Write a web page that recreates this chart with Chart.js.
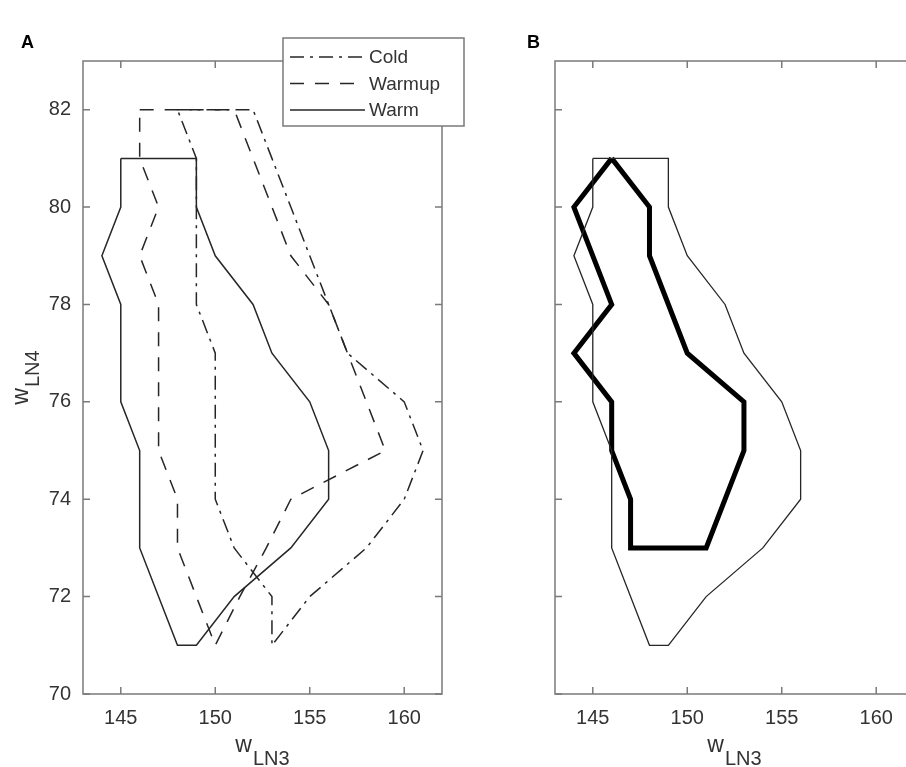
<!DOCTYPE html>
<html><head><meta charset="utf-8">
<style>
html,body{margin:0;padding:0;background:#fff;width:906px;height:767px;overflow:hidden;position:relative}
#wa{position:absolute;left:0;top:0;width:470px;height:767px}
#wb{position:absolute;left:472px;top:0;width:460px;height:767px}
canvas{display:block}
</style>
<script src="https://cdn.jsdelivr.net/npm/chart.js@4"></script>
</head><body>
<div id="wa"><canvas id="ca" width="470" height="767"></canvas></div>
<div id="wb"><canvas id="cb" width="460" height="767"></canvas></div>
<script>
// ---- data ----
const xTicks = [145, 150, 155, 160];
const yTicks = [70, 72, 74, 76, 78, 80, 82];

const legendLabels = ['Cold', 'Warmup', 'Warm'];

const coldX = [148,152,153,154,155,156,157,160,161,160,158,155,153,153,151,150,150,149,149,148];
const coldY = [82,82,81,80,79,78,77,76,75,74,73,72,71,72,73,74,77,78,81,82];

const warmupX = [146,151,152,153,154,156,157,158,159,154,152.7,151.3,150,149,148,148,147,147,146,147,146,146];
const warmupY = [82,82,81,80,79,78,77,76,75,74,73,72,71,72,73,74,75,78,79,80,81,82];

const warmX = [145,149,149,150,152,153,155,156,156,154,151,149,148,146,146,145,145,144,145,145];
const warmY = [81,81,80,79,78,77,76,75,74,73,72,71,71,73,75,76,78,79,80,81];

const coreX = [146,148,148,150,153,153,151,147,147,146,146,144,146,144,146];
const coreY = [81,80,79,77,76,75,73,73,74,75,76,77,78,80,81];

// ---- styling ----
const FONT = '"Liberation Sans", Arial, Helvetica, sans-serif';
const LINE = '#262626';
const AXIS = '#7a7a7a';
const TXT = '#333333';
const DASH = [14, 11];
const DASHDOT = [14, 6, 3, 6];

const pts = (xs, ys) => xs.map((x, i) => ({x: x, y: ys[i]}));

function lineDs(label, xs, ys, dash, width, color) {
  return {
    label: label, data: pts(xs, ys), showLine: true, pointRadius: 0, pointHoverRadius: 0,
    borderColor: color, backgroundColor: color, borderWidth: width, borderDash: dash,
    tension: 0, fill: false, borderJoinStyle: 'miter', borderCapStyle: 'butt'
  };
}

const framePlugin = {
  id: 'frame',
  beforeDatasetsDraw(chart) {
    const {ctx, chartArea: a, scales} = chart;
    ctx.save();
    ctx.strokeStyle = AXIS;
    ctx.lineWidth = 1.5;
    ctx.setLineDash([]);
    ctx.strokeRect(a.left, a.top, a.right - a.left, a.bottom - a.top);
    const tl = 7;
    ctx.beginPath();
    xTicks.forEach(v => {
      const px = scales.x.getPixelForValue(v);
      ctx.moveTo(px, a.bottom); ctx.lineTo(px, a.bottom - tl);
      ctx.moveTo(px, a.top); ctx.lineTo(px, a.top + tl);
    });
    yTicks.forEach(v => {
      const py = scales.y.getPixelForValue(v);
      ctx.moveTo(a.left, py); ctx.lineTo(a.left + tl, py);
      ctx.moveTo(a.right, py); ctx.lineTo(a.right - tl, py);
    });
    ctx.stroke();
    ctx.restore();
  }
};

function subText(ctx, main, sub, x, y, subDy) {
  ctx.font = '23px ' + FONT;
  const w1 = ctx.measureText(main).width;
  ctx.font = '20px ' + FONT;
  const w2 = ctx.measureText(sub).width;
  const total = w1 + 1 + w2;
  const sx = x - total / 2;
  ctx.textAlign = 'left';
  ctx.textBaseline = 'alphabetic';
  ctx.font = '23px ' + FONT;
  ctx.fillText(main, sx, y);
  ctx.font = '20px ' + FONT;
  ctx.fillText(sub, sx + w1 + 1, y + subDy);
}

function makeTitlePlugin(letter, withY) {
  return {
    id: 'titles',
    afterDraw(chart) {
      const {ctx, chartArea: a} = chart;
      ctx.save();
      ctx.fillStyle = TXT;
      subText(ctx, 'w', 'LN3', (a.left + a.right) / 2, 752, 13);
      if (withY) {
        ctx.save();
        ctx.translate(28, (a.top + a.bottom) / 2);
        ctx.rotate(-Math.PI / 2);
        subText(ctx, 'w', 'LN4', 0, 0, 11);
        ctx.restore();
      }
      ctx.fillStyle = '#000';
      ctx.font = 'bold 18px ' + FONT;
      ctx.textAlign = 'left';
      ctx.textBaseline = 'alphabetic';
      ctx.fillText(letter, letter === 'A' ? 21 : 55, 48);
      ctx.restore();
    }
  };
}

const legendPlugin = {
  id: 'customLegend',
  afterDraw(chart) {
    const {ctx} = chart;
    const bx = 283, by = 38, bw = 181, bh = 88;
    ctx.save();
    ctx.fillStyle = '#fff';
    ctx.fillRect(bx, by, bw, bh);
    ctx.strokeStyle = AXIS;
    ctx.lineWidth = 1.5;
    ctx.setLineDash([]);
    ctx.strokeRect(bx, by, bw, bh);
    const styles = [DASHDOT, DASH, []];
    const ys = [57, 83.5, 110];
    legendLabels.forEach((lab, i) => {
      ctx.strokeStyle = LINE;
      ctx.lineWidth = 1.5;
      ctx.setLineDash(styles[i]);
      ctx.beginPath();
      ctx.moveTo(290, ys[i]); ctx.lineTo(365, ys[i]);
      ctx.stroke();
      ctx.setLineDash([]);
      ctx.fillStyle = TXT;
      ctx.font = '19px ' + FONT;
      ctx.textAlign = 'left';
      ctx.textBaseline = 'middle';
      ctx.fillText(lab, 369, ys[i] + 1);
    });
    ctx.restore();
  }
};

function makeChart(id, datasets, showY, plugins, rightPad) {
  return new Chart(document.getElementById(id), {
    type: 'scatter',
    data: {datasets: datasets},
    options: {
      responsive: false, animation: false, devicePixelRatio: 1,
      layout: {padding: {left: 0, top: 61, right: rightPad, bottom: 0}},
      plugins: {legend: {display: false}, tooltip: {enabled: false}, title: {display: false}},
      scales: {
        x: {
          type: 'linear', min: 143, max: 162,
          afterBuildTicks: s => { s.ticks = xTicks.map(v => ({value: v})); },
          afterFit: s => { s.height = 73; },
          grid: {display: false, drawTicks: false, tickLength: 0}, border: {display: false},
          ticks: {font: {size: 20, family: FONT}, color: TXT, padding: 12, autoSkip: false, maxRotation: 0,
                  callback: v => String(v)}
        },
        y: {
          type: 'linear', min: 70, max: 83,
          afterBuildTicks: s => { s.ticks = yTicks.map(v => ({value: v})); },
          afterFit: s => { s.width = 83; },
          grid: {display: false, drawTicks: false, tickLength: 0}, border: {display: false},
          ticks: {display: showY, font: {size: 20, family: FONT}, color: TXT, padding: 12, autoSkip: false,
                  callback: v => String(v)}
        }
      }
    },
    plugins: plugins
  });
}

makeChart('ca', [
  lineDs('Cold', coldX, coldY, DASHDOT, 1.5, LINE),
  lineDs('Warmup', warmupX, warmupY, DASH, 1.5, LINE),
  lineDs('Warm', warmX, warmY, [], 1.5, LINE)
], true, [framePlugin, makeTitlePlugin('A', true), legendPlugin], 28);

makeChart('cb', [
  lineDs('Warm', warmX, warmY, [], 1.3, LINE),
  lineDs('Core', coreX, coreY, [], 5, '#000')
], false, [framePlugin, makeTitlePlugin('B', false)], 18);
</script>
</body></html>
